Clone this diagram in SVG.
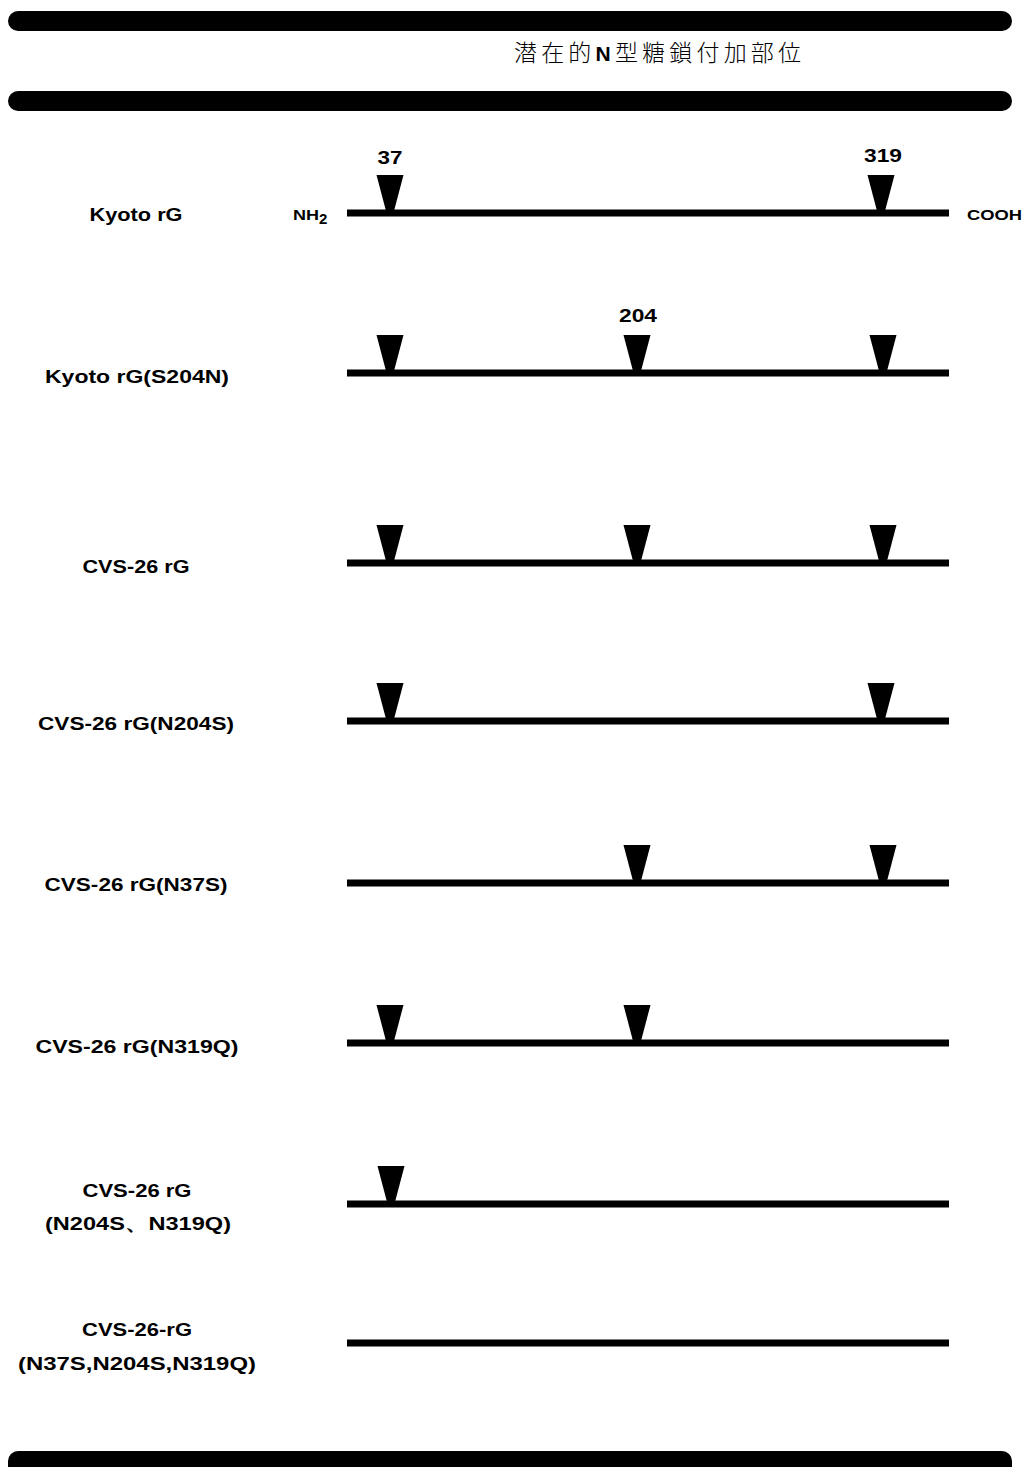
<svg xmlns="http://www.w3.org/2000/svg" width="1027" height="1467" viewBox="0 0 1027 1467">
  <style>
    .bar { fill: #000; }
    .chain { stroke: #000; stroke-width: 7; fill: none; }
    .site { fill: #000; }
    .lbl { font-family: "Liberation Sans", "Noto Sans", sans-serif; font-weight: bold; font-size: 19px; fill: #000; text-anchor: middle; }
    .num { font-family: "Liberation Sans", "Noto Sans", sans-serif; font-weight: bold; font-size: 19px; fill: #000; text-anchor: middle; }
    .term { font-family: "Liberation Sans", "Noto Sans", sans-serif; font-weight: bold; font-size: 15px; fill: #000; }
    .title { font-family: "Noto Sans CJK JP", "Noto Sans CJK SC", sans-serif; font-size: 23px; font-weight: 300; fill: #000; }
  </style>
  <defs>
    <!-- glycosylation site marker: tapering wedge pointing down onto the chain -->
    <polygon id="wedge" points="-13.5,-38 13.5,-38 4,-2 -4,-2"/>
  </defs>
  <rect width="1027" height="1467" fill="#fff"/>

  <!-- header and footer rules -->
  <g id="rules">
    <rect class="bar" x="8" y="11" width="1004" height="20" rx="10"/>
    <rect class="bar" x="8" y="91" width="1004" height="20" rx="10"/>
    <rect class="bar" x="8" y="1451" width="1004" height="26" rx="10"/>
  </g>

  <g id="header">
    <text class="title" x="514" y="61" textLength="287" lengthAdjust="spacing">潜在的<tspan font-family="Liberation Sans, sans-serif" font-weight="bold" font-size="21">N</tspan>型糖鎖付加部位</text>
  </g>

  <!-- protein chains -->
  <g id="connectors">
    <line class="chain" x1="347" y1="213" x2="949" y2="213"/>
    <line class="chain" x1="347" y1="373" x2="949" y2="373"/>
    <line class="chain" x1="347" y1="563" x2="949" y2="563"/>
    <line class="chain" x1="347" y1="721" x2="949" y2="721"/>
    <line class="chain" x1="347" y1="883" x2="949" y2="883"/>
    <line class="chain" x1="347" y1="1043" x2="949" y2="1043"/>
    <line class="chain" x1="347" y1="1204" x2="949" y2="1204"/>
    <line class="chain" x1="347" y1="1343" x2="949" y2="1343"/>
  </g>

  <g id="row-kyoto">
    <text class="lbl" x="136" y="221" textLength="93" lengthAdjust="spacingAndGlyphs">Kyoto rG</text>
    <text class="term" x="293" y="220" textLength="26" lengthAdjust="spacingAndGlyphs">NH</text>
    <text class="term" x="319" y="224" font-size="11">2</text>
    <text class="term" x="967" y="220" textLength="55" lengthAdjust="spacingAndGlyphs">COOH</text>
    <text class="num" x="390" y="164" textLength="25" lengthAdjust="spacingAndGlyphs">37</text>
    <text class="num" x="883" y="162" textLength="38" lengthAdjust="spacingAndGlyphs">319</text>
    <use href="#wedge" class="site" x="390" y="213"/>
    <use href="#wedge" class="site" x="881" y="213"/>
  </g>

  <g id="row-kyoto-s204n">
    <text class="lbl" x="137" y="383" textLength="184" lengthAdjust="spacingAndGlyphs">Kyoto rG(S204N)</text>
    <text class="num" x="638" y="322" textLength="38" lengthAdjust="spacingAndGlyphs">204</text>
    <use href="#wedge" class="site" x="390" y="373"/>
    <use href="#wedge" class="site" x="637" y="373"/>
    <use href="#wedge" class="site" x="883" y="373"/>
  </g>

  <g id="row-cvs26">
    <text class="lbl" x="136" y="573" textLength="107" lengthAdjust="spacingAndGlyphs">CVS-26 rG</text>
    <use href="#wedge" class="site" x="390" y="563"/>
    <use href="#wedge" class="site" x="637" y="563"/>
    <use href="#wedge" class="site" x="883" y="563"/>
  </g>

  <g id="row-cvs26-n204s">
    <text class="lbl" x="136" y="730" textLength="196" lengthAdjust="spacingAndGlyphs">CVS-26 rG(N204S)</text>
    <use href="#wedge" class="site" x="390" y="721"/>
    <use href="#wedge" class="site" x="881" y="721"/>
  </g>

  <g id="row-cvs26-n37s">
    <text class="lbl" x="136" y="891" textLength="183" lengthAdjust="spacingAndGlyphs">CVS-26 rG(N37S)</text>
    <use href="#wedge" class="site" x="637" y="883"/>
    <use href="#wedge" class="site" x="883" y="883"/>
  </g>

  <g id="row-cvs26-n319q">
    <text class="lbl" x="137" y="1053" textLength="203" lengthAdjust="spacingAndGlyphs">CVS-26 rG(N319Q)</text>
    <use href="#wedge" class="site" x="390" y="1043"/>
    <use href="#wedge" class="site" x="637" y="1043"/>
  </g>

  <g id="row-cvs26-n204s-n319q">
    <text class="lbl" x="137" y="1197" textLength="109" lengthAdjust="spacingAndGlyphs">CVS-26 rG</text>
    <text class="lbl" x="138" y="1230" textLength="186" lengthAdjust="spacingAndGlyphs">(N204S、N319Q)</text>
    <use href="#wedge" class="site" x="391" y="1204"/>
  </g>

  <g id="row-cvs26-triple">
    <text class="lbl" x="137" y="1336" textLength="110" lengthAdjust="spacingAndGlyphs">CVS-26-rG</text>
    <text class="lbl" x="137" y="1370" textLength="238" lengthAdjust="spacingAndGlyphs">(N37S,N204S,N319Q)</text>
  </g>
</svg>
